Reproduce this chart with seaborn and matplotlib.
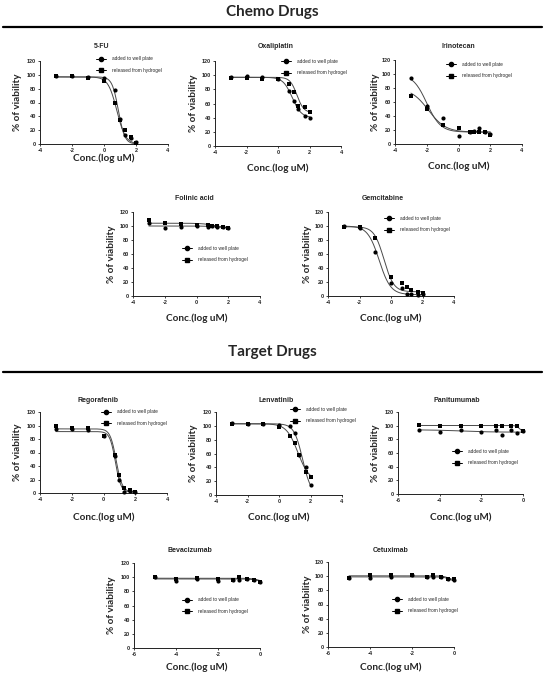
import numpy as np
import pandas as pd
import matplotlib
matplotlib.use("Agg")
import matplotlib.pyplot as plt
from matplotlib.lines import Line2D
import seaborn as sns

W, H, DPI = 545, 676, 100

# ---------------- data ----------------
CHEMO_X = [-3, -2, -1, 0, 0.7, 1, 1.3, 1.7, 2]
TARGET_X = [-5, -4, -3, -2, -1.3, -1, -0.6, -0.3, 0]
SERIES = ["added to well plate", "released from hydrogel"]
Y_TICKS = [0, 20, 40, 60, 80, 100, 120]
CHEMO_XTICKS = [-4, -2, 0, 2, 4]
TARGET_XTICKS = [-6, -4, -2, 0]

fu_added = [99, 98, 97, 95, 78, 36, 13, 8, 3]
fu_released = [99, 98, 96, 91, 60, 35, 20, 10, 2]
oxa_added = [97, 99, 97, 95, 78, 63, 52, 43, 40]
oxa_released = [96, 96, 95, 95, 88, 76, 56, 55, 48]
iri_added = [94, 55, 37, 11, 17, 18, 23, 17, 14]
iri_released = [69, 50, 27, 23, 17, 17, 17, 17, 13]
fol_added = [104, 97, 99, 100, 99, 100, 99, 98, 97]
fol_released = [108, 104, 103, 102, 102, 100, 100, 98, 97]
gem_added = [100, 97, 63, 18, 11, 3, 3, 2, 3]
gem_released = [98, 98, 83, 27, 18, 13, 8, 6, 5]
reg_added = [95, 95, 93, 84, 55, 19, 1, 3, 1]
reg_released = [100, 97, 97, 85, 56, 26, 7, 4, 2]
len_added = [104, 103, 103, 101, 100, 89, 58, 41, 15]
len_released = [103, 103, 102, 99, 85, 75, 58, 33, 26]
pan_added = [94, 91, 94, 91, 93, 87, 93, 89, 92]
pan_released = [101, 99, 100, 100, 100, 100, 100, 99, 92]
bev_added = [100, 94, 98, 94, 96, 96, 97, 96, 93]
bev_released = [100, 98, 99, 97, 96, 100, 97, 96, 93]
cet_added = [97, 97, 99, 101, 99, 99, 99, 96, 94]
cet_released = [98, 101, 101, 101, 99, 101, 99, 96, 96]

# fitted 4-parameter logistic curves: (top, bottom, logIC50, slope)
fu_fit = [(97, 0, 0.9, 2.2), (97, 0, 0.8, 1.6)]
oxa_fit = [(97, 40, 0.9, 1.5), (97, 47, 1.2, 2.0)]
iri_fit = [(100, 17, -2.0, 1.0), (80, 17, -1.9, 0.8)]
fol_fit = [(100, 96, 1.6, 1.0), (104, 96, 1.3, 1.0)]
gem_fit = [(100, 2, -0.75, 1.2), (99, 6, -0.45, 1.4)]
reg_fit = [(91, 1, 0.75, 2.5), (95, 1.5, 0.8, 2.3)]
len_fit = [(103, 0, 1.5, 1.6), (103, 20, 1.2, 1.2)]
pan_fit = [(94, 90.5, -3.0, 0.6), (100.3, 90, -0.15, 5.0)]
bev_fit = [(97.5, 90, 0.1, 2.0), (98.5, 90, 0.1, 2.0)]
cet_fit = [(99, 92, -0.2, 3.0), (100.5, 94, -0.25, 3.0)]

PANELS = [
    ("5-FU", CHEMO_X, fu_added, fu_released, fu_fit),
    ("Oxaliplatin", CHEMO_X, oxa_added, oxa_released, oxa_fit),
    ("Irinotecan", CHEMO_X, iri_added, iri_released, iri_fit),
    ("Folinic acid", CHEMO_X, fol_added, fol_released, fol_fit),
    ("Gemcitabine", CHEMO_X, gem_added, gem_released, gem_fit),
    ("Regorafenib", CHEMO_X, reg_added, reg_released, reg_fit),
    ("Lenvatinib", CHEMO_X, len_added, len_released, len_fit),
    ("Panitumumab", TARGET_X, pan_added, pan_released, pan_fit),
    ("Bevacizumab", TARGET_X, bev_added, bev_released, bev_fit),
    ("Cetuximab", TARGET_X, cet_added, cet_released, cet_fit),
]

# ---------------- layout (pixels) ----------------
# x0, x1, y_top(120), y_bottom(0), title_x, title_y, xlabel_y, ylabel_x, legend_left, legend_mid_y
LAYOUT = [
    (40, 168, 61, 144, 102, 47, 158, 17, 96, 64.5),
    (215, 341, 61, 146, 276, 47, 168, 193, 281, 67),
    (395, 522, 60, 144, 458, 47, 166, 375, 446, 70),
    (133, 260, 212, 296, 194, 199, 318, 112, 182, 254),
    (328, 454, 212, 296, 383, 199, 318, 307, 384, 224),
    (40, 167, 412, 493, 98, 401, 517, 17, 101, 417.5),
    (216, 342, 412, 495, 276, 401, 517, 193, 290, 415),
    (398, 523, 412, 494, 457, 401, 517, 375, 452, 457),
    (134, 260, 563, 648, 190, 550, 667, 112, 182, 605.5),
    (328, 454, 562, 647, 391, 550, 667, 307, 392, 605),
]

sns.set_theme(style="ticks")
plt.rcParams["font.family"] = ["Liberation Sans", "DejaVu Sans"]

fig = plt.figure(figsize=(W / DPI, H / DPI), dpi=DPI)
fig.patch.set_facecolor("white")

HEAD_FONT = "Lato"


def fx(px):
    return px / W


def fy(py):
    return 1 - py / H


def logistic(x, p):
    top, bottom, c, s = p
    return bottom + (top - bottom) / (1 + 10 ** ((x - c) * s))


# section headers
for text, ty, ly in [("Chemo Drugs", 12, 27), ("Target Drugs", 352, 372)]:
    fig.text(0.5, fy(ty), text, ha="center", va="center", fontsize=11,
             fontweight="bold", family=HEAD_FONT)
    fig.add_artist(Line2D([fx(3), fx(542)], [fy(ly), fy(ly)], color="black",
                          lw=1.6, transform=fig.transFigure))

markers = ["o", "s"]
for (name, xs, ya, yr, fits), lay in zip(PANELS, LAYOUT):
    x0, x1, yt, yb, tx, ty, xly, ylx, lgx, lgy = lay
    ax = fig.add_axes([fx(x0), fy(yb), (x1 - x0) / W, (yb - yt) / H])
    target = xs is TARGET_X
    xticks = TARGET_XTICKS if target else CHEMO_XTICKS
    df = pd.DataFrame({"x": list(xs) * 2, "y": list(ya) + list(yr),
                       "series": [SERIES[0]] * len(xs) + [SERIES[1]] * len(xs)})
    for i, ser in enumerate(SERIES):
        xx = np.linspace(min(xs), max(xs), 200)
        cdf = pd.DataFrame({"x": xx, "y": logistic(xx, fits[i])})
        sns.lineplot(data=cdf, x="x", y="y", ax=ax, color="#4a4a4a", lw=0.7,
                     legend=False)
        sub = df[df.series == ser]
        sns.scatterplot(data=sub, x="x", y="y", ax=ax, marker=markers[i],
                        color="black", s=9, linewidth=0, legend=False,
                        clip_on=False, zorder=3)
    ax.set_xlim(xticks[0], xticks[-1])
    ax.set_ylim(0, 120)
    ax.set_xticks(xticks)
    ax.set_yticks(Y_TICKS)
    ax.set_xticklabels([str(t) for t in xticks], fontsize=4, fontweight="bold")
    ax.set_yticklabels([str(t) for t in Y_TICKS], fontsize=4, fontweight="bold")
    ax.tick_params(length=1.6, width=0.6, pad=1.2, color="#222222")
    for sp in ["left", "bottom"]:
        ax.spines[sp].set_linewidth(0.7)
        ax.spines[sp].set_color("#222222")
    sns.despine(ax=ax)
    ax.set_facecolor("none")

    ax.set_xlabel("Conc.(log uM)", fontsize=7.2, fontweight="bold", family=HEAD_FONT)
    ax.set_ylabel("% of viability", fontsize=7.2, fontweight="bold", family=HEAD_FONT)
    ax.xaxis.set_label_coords(0.5, (yb - xly) / (yb - yt))
    ax.xaxis.label.set_va("center")
    ax.yaxis.set_label_coords((ylx - x0) / (x1 - x0), 0.5)
    ax.yaxis.label.set_va("center")

    fig.text(fx(tx), fy(ty), name, ha="center", va="center",
             fontsize=5, fontweight="bold")

    handles = [Line2D([0], [0], color="black", lw=0.7, marker=m, ms=3)
               for m in markers]
    ax.legend(handles, SERIES, loc="center left",
              bbox_to_anchor=(fx(lgx), fy(lgy)), bbox_transform=fig.transFigure,
              frameon=False, fontsize=3.4, handlelength=2.1, handletextpad=1.3,
              labelspacing=1.4, borderpad=0, borderaxespad=0)

fig.savefig("out.png", dpi=DPI, facecolor="white")
